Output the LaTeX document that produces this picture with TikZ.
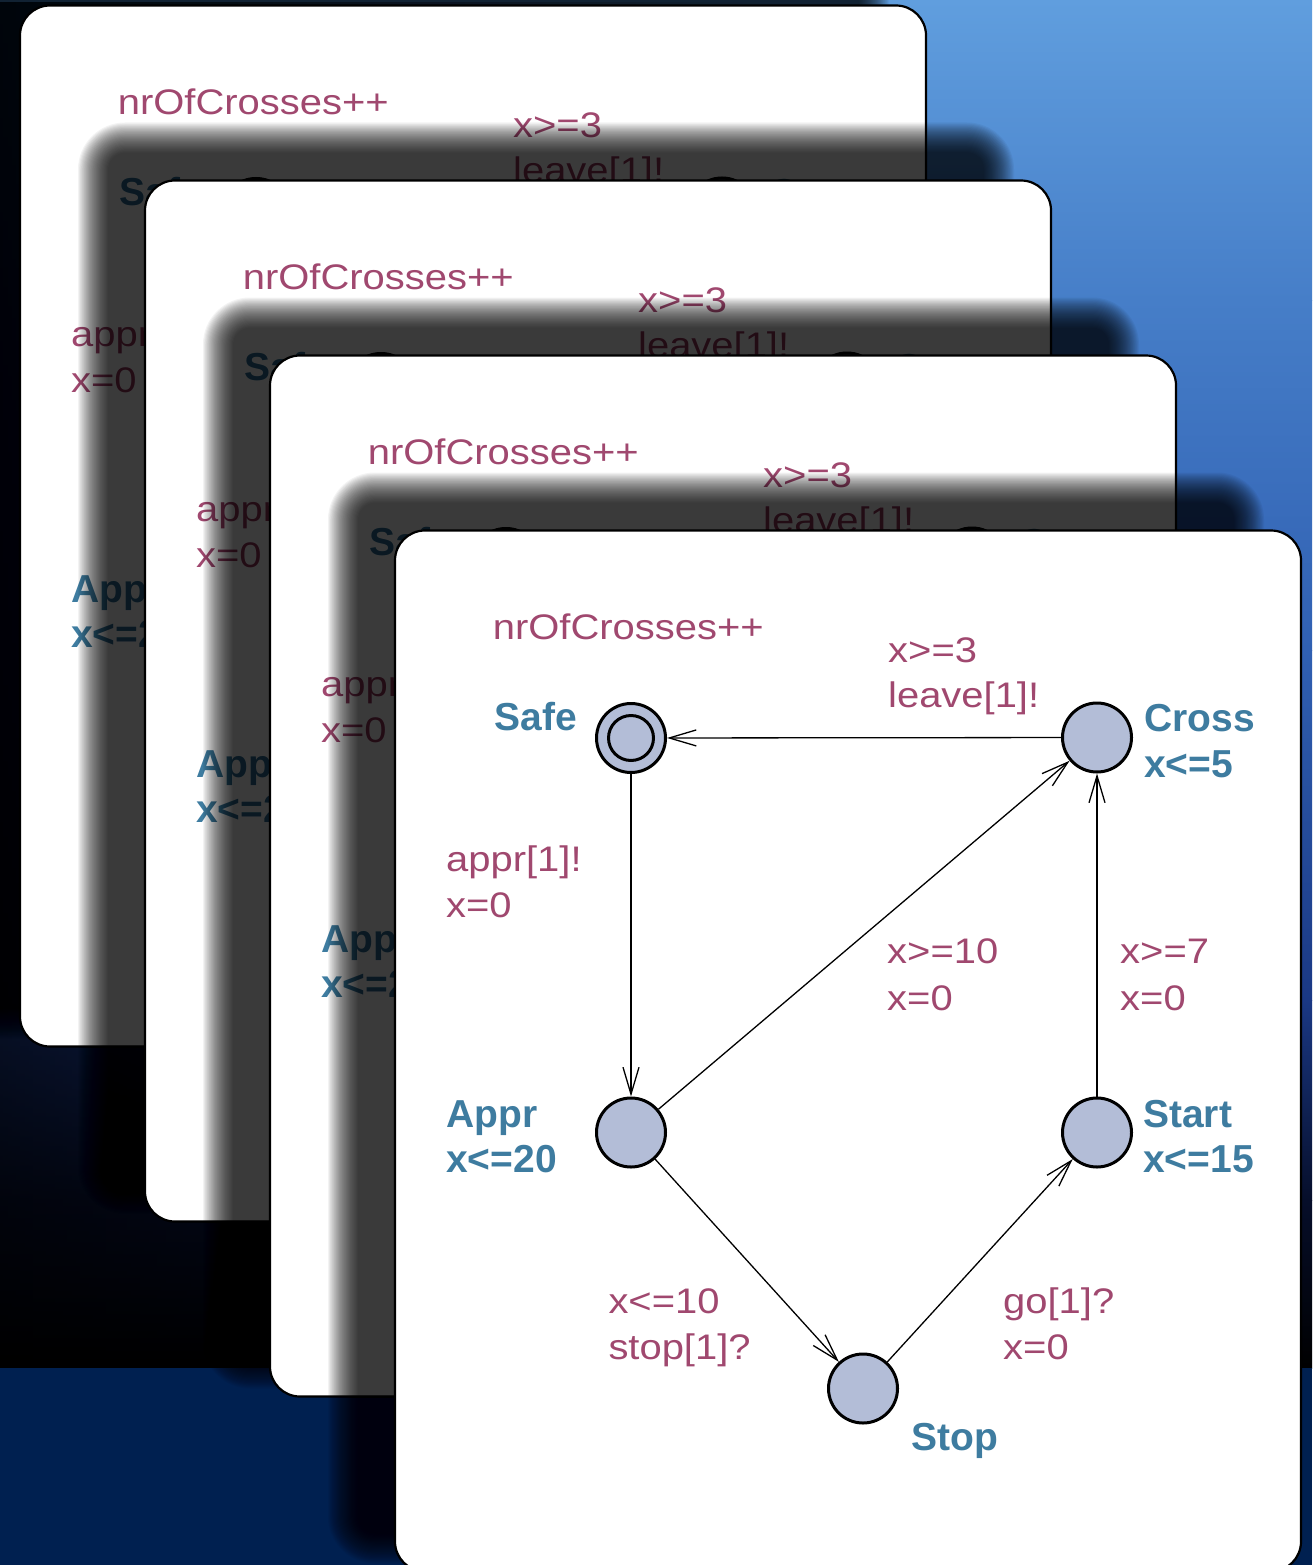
\documentclass[tikz,border=0pt]{standalone}
\usepackage{fontspec}
\setmainfont{Liberation Sans}
\newfontfamily\guardfont{Liberation Sans}[FakeStretch=1.125]
\usetikzlibrary{arrows.meta,fadings}

\definecolor{locname}{RGB}{62,124,160}
\definecolor{guardcol}{RGB}{160,72,111}
\definecolor{locfill}{RGB}{179,189,215}
\definecolor{bgA}{RGB}{96,158,222}
\definecolor{bgB}{RGB}{70,126,200}
\definecolor{bgC}{RGB}{48,96,178}
\definecolor{bgD}{RGB}{26,56,132}
\definecolor{bgE}{RGB}{6,14,42}
\definecolor{bgF}{RGB}{0,0,0}
\definecolor{band}{RGB}{0,32,80}

\tikzfading[name=darkwest, left color=transparent!30, right color=transparent!100]

\tikzset{
  loc/.style={circle, draw=black, line width=3pt, fill=locfill,
              minimum size=69pt, inner sep=0pt},
  trans/.style={draw=black, line width=1.3pt,
                -{Straight Barb[length=27pt,width=16pt]}},
  guard/.style={anchor=base west, inner sep=0pt, text=guardcol,
                font=\guardfont\fontsize{35.5}{46}\selectfont},
  lname/.style={anchor=base west, inner sep=0pt, text=locname,
                font=\bfseries\fontsize{39}{46}\selectfont},
  card/.style={fill=white, draw=black, line width=2.2pt, rounded corners=30pt},
}

% soft drop shadow of a card whose top-left corner is at (#1,#2)
\newcommand\castshadow[2]{%
  \foreach \i in {0,...,27}{%
    \pgfmathsetmacro\e{-15+\i*30/27}%
    \pgfmathsetmacro\r{max(32+\e,2)}%
    \fill[black, fill opacity=0.0483, rounded corners=\r pt]
      ({#1-52-\e},{#2-43-\e}) rectangle ({#1-52+906+\e},{#2-43+1061+\e});
  }}

% one card with the train automaton; #1 id, (#2,#3) top-left corner
\newcommand\trainmodel[3]{%
  \begin{scope}[shift={(#2,#3)}]
    \path[card] (0,0) rectangle (906,1041);
    \node[loc] (safe#1)  at (236,207.5) {};
    \node[loc] (cross#1) at (702,207)   {};
    \node[loc] (appr#1)  at (236,602)   {};
    \node[loc] (start#1) at (702,602)   {};
    \node[loc] (stop#1)  at (468,858)   {};
    \draw[line width=3pt] (safe#1.center) circle[radius=22.5pt];
    \draw[trans] (safe#1)  -- (appr#1);
    \draw[trans] (cross#1) -- (safe#1);
    \draw[trans] (appr#1)  -- (cross#1);
    \draw[trans] (appr#1)  -- (stop#1);
    \draw[trans] (stop#1)  -- (start#1);
    \draw[trans] (start#1) -- (cross#1);
    \node[guard] (upd#1) at (97.7,109) {nrOfCrosses++};
    \node[guard] (ga#1) at (493,132) {x>=3};
    \node[guard] (sa#1) at (493,177) {leave[1]!};
    \node[lname, anchor=base east] (nsafe#1) at (182,200) {Safe};
    \node[lname] (ncross#1) at (749,200.7) {Cross};
    \node[lname] (icross#1) at (749,247.3) {x<=5};
    \node[guard] (sb#1) at (51,340.5) {appr[1]!};
    \node[guard] (ab#1) at (51,387) {x=0};
    \node[lname] (nappr#1) at (51,596.7) {Appr};
    \node[lname] (iappr#1) at (51,642) {x<=20};
    \node[guard] (gc#1) at (492,432.5) {x>=10};
    \node[guard] (ac#1) at (492,479.5) {x=0};
    \node[guard] (gd#1) at (725,432.5) {x>=7};
    \node[guard] (ad#1) at (725,479.5) {x=0};
    \node[lname] (nstart#1) at (748,596.7) {Start};
    \node[lname] (istart#1) at (748,642) {x<=15};
    \node[guard] (ge#1) at (213.3,782.7) {x<=10};
    \node[guard] (se#1) at (213.3,828.5) {stop[1]?};
    \node[guard] (sf#1) at (608,782.7) {go[1]?};
    \node[guard] (af#1) at (608,828.5) {x=0};
    \node[lname] (nstop#1) at (516.7,920) {Stop};
  \end{scope}}

\begin{document}
\begin{tikzpicture}[x=1pt,y=-1pt]
  \useasboundingbox (0,0) rectangle (1312,1565);
  \begin{scope}
    \clip (0,0) rectangle (1312,1565);
    % backdrop
    \shade[top color=bgA, bottom color=bgB] (0,0) rectangle (1312,300.5);
    \shade[top color=bgB, bottom color=bgC] (0,300) rectangle (1312,650.5);
    \shade[top color=bgC, bottom color=bgD] (0,650) rectangle (1312,1000.5);
    \shade[top color=bgD, bottom color=bgE] (0,1000) rectangle (1312,1200.5);
    \shade[top color=bgE, bottom color=bgF] (0,1200) rectangle (1312,1368);
    \fill[black, path fading=darkwest] (0,0) rectangle (760,1368);
    \fill[band] (0,1368) rectangle (1312,1565);
    % stacked cards, back to front
    \castshadow{20}{5.5}
    \trainmodel{1}{20}{5.5}
    \castshadow{145}{180.5}
    \trainmodel{2}{145}{180.5}
    \castshadow{270}{355.5}
    \trainmodel{3}{270}{355.5}
    \castshadow{395}{530.5}
    \trainmodel{4}{395}{530.5}
  \end{scope}
\end{tikzpicture}
\end{document}
